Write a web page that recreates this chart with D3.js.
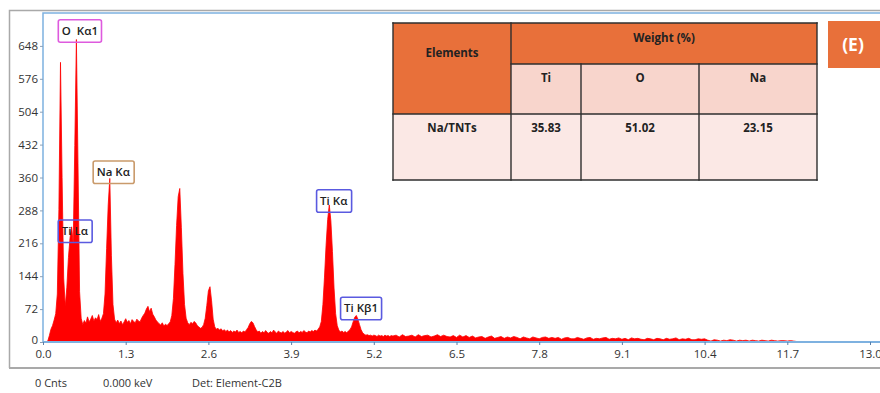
<!DOCTYPE html>
<html>
<head>
<meta charset="utf-8">
<script src="https://cdn.jsdelivr.net/npm/d3@7"></script>
<style>
  body { margin: 0; background: #fff; }
  svg { display: block; }
  text { font-family: "Open Sans", "Noto Sans", "DejaVu Sans", sans-serif; }
</style>
</head>
<body>
<svg id="chart" width="880" height="393"></svg>
<script>
// ---- EDS spectrum (counts per channel) ----
// channels 0.000 – 5.500 keV, 0.025 keV apart
const lowStep = 0.025;
const lowCounts = [
  0, 0, 0, 2, 14, 28, 36, 48, 62, 105,
  290, 612, 360, 140, 78, 120, 185, 228, 252, 215,
  430, 662, 390, 110, 52, 38, 47, 41, 55, 44,
  50, 58, 46, 53, 49, 60, 45, 52, 62, 105,
  205, 300, 358, 190, 82, 50, 42, 48, 40, 46,
  38, 44, 51, 43, 47, 40, 49, 45, 42, 50,
  46, 44, 52, 58, 63, 72, 78, 66, 74, 61,
  55, 48, 44, 40, 37, 42, 35, 39, 36, 40,
  44, 58, 95, 170, 255, 318, 336, 250, 150, 82,
  52, 42, 38, 43, 40, 45, 42, 36, 33, 30,
  32, 38, 52, 80, 112, 121, 90, 50, 33, 28,
  30, 26, 29, 24, 27, 23, 26, 22, 25, 21,
  24, 22, 26, 21, 23, 20, 24, 22, 27, 32,
  40, 45, 42, 34, 27, 22, 24, 19, 23, 20,
  25, 21, 19, 23, 20, 26, 22, 19, 24, 21,
  20, 23, 19, 22, 25, 20, 23, 21, 19, 22,
  24, 20, 23, 21, 25, 22, 20, 24, 22, 25,
  23, 26, 24, 28, 33, 45, 82, 142, 212, 268,
  300, 265, 198, 118, 62, 36, 26, 22, 24, 21,
  23, 20, 24, 27, 33, 44, 54, 58, 50, 38,
  27, 20, 17, 15, 16, 14, 15, 13, 15, 14,
  12, 15, 13, 14, 12, 15, 13, 14, 12, 14,
  13
];
// channels 5.55 – 11.90 keV, 0.05 keV apart
const highStart = 5.55;
const highStep = 0.05;
const highCounts = [
  15, 11, 16, 12, 13, 15, 11, 16, 12, 14, 15, 11, 13, 16, 12, 15, 12, 11, 14, 10, 15, 11, 14, 10, 13, 9,
  11, 12, 8, 11, 13, 8, 10, 12, 8, 11, 9, 12, 10, 7, 11, 9, 7, 11, 9, 7, 10, 11, 8, 10,
  8, 10, 6, 9, 10, 7, 7, 10, 8, 6, 9, 10, 6, 8, 7, 9, 10, 6, 8, 7, 9, 6, 8, 5, 9, 7, 8, 6, 5, 8,
  7, 5, 8, 7, 5, 8, 6, 7, 9, 5, 7, 6, 8, 5, 5, 7, 6, 7,
  4, 2, 5, 4, 2, 4, 3, 5, 4, 2, 4, 3, 4, 2, 4, 3, 2, 4, 3, 2, 4, 3, 2, 3, 3, 2, 3, 2, 1, 0
];

// ---- axes ----
const xTicks = [0.0, 1.3, 2.6, 3.9, 5.2, 6.5, 7.8, 9.1, 10.4, 11.7, 13.0];
const yTicks = [0, 72, 144, 216, 288, 360, 432, 504, 576, 648];

// ---- peak identifications (label centre in keV / counts) ----
const peakLabels = [
  { name: "O  Kα1", keV: 0.58, count: 681, color: "#de5ade" },
  { name: "Na Kα",  keV: 1.105, count: 372, color: "#c99a6b" },
  { name: "Ti Lα",  keV: 0.50, count: 243, color: "#5a5ae0" },
  { name: "Ti Kα",  keV: 4.57, count: 309, color: "#5a5ae0" },
  { name: "Ti Kβ1", keV: 5.0,  count: 74,  color: "#5a5ae0" }
];

// ---- composition table ----
const elementNames = ["Ti", "O", "Na"];
const sampleName = "Na/TNTs";
const weightPercent = ["35.83", "51.02", "23.15"];

// ---- status line ----
const statusItems = ["0 Cnts", "0.000 keV", "Det: Element-C2B"];

const svg = d3.select("#chart");

// outer window frame
svg.append("path")
  .attr("d", "M9.5,368 L9.5,10.5 L885,10.5")
  .attr("fill", "none").attr("stroke", "#a9a9a9").attr("stroke-width", 1.5);
svg.append("line")
  .attr("x1", 9).attr("x2", 885).attr("y1", 368).attr("y2", 368)
  .attr("stroke", "#a9a9a9").attr("stroke-width", 2);

const x = d3.scaleLinear().domain([0, 13]).range([43, 870]);
const y = d3.scaleLinear().domain([0, 720]).range([342, 13]);

// plot frame
svg.append("path")
  .attr("d", `M885,${y(720)} L${x(0)},${y(720)} L${x(0)},${y(0)}`)
  .attr("fill", "none").attr("stroke", "#7eb1e0").attr("stroke-width", 1.5);

// spectrum
const spectrum = lowCounts.map((c, i) => [i * lowStep, c])
  .concat(highCounts.map((c, i) => [highStart + i * highStep, c]));

const area = d3.area()
  .x(d => x(d[0]))
  .y0(y(0))
  .y1(d => y(d[1]))
  .curve(d3.curveLinear);

svg.append("path")
  .datum(spectrum)
  .attr("d", area)
  .attr("fill", "#ff0000")
  .attr("stroke", "#ff0000")
  .attr("stroke-width", 0.8)
  .attr("stroke-linejoin", "miter");

// x axis
const xAxis = svg.append("g")
  .attr("transform", `translate(0,${y(0)})`)
  .call(d3.axisBottom(x).tickValues(xTicks).tickFormat(d3.format(".1f")).tickSize(3).tickPadding(5));
xAxis.select(".domain").attr("d", `M${x(0)},0 L885,0`).attr("stroke", "#7eb1e0").attr("stroke-width", 2);
xAxis.selectAll(".tick line").attr("stroke", "#5a7fa8");
xAxis.selectAll(".tick text").attr("font-size", 11.5).attr("fill", "#333");

// y axis
const yAxis = svg.append("g")
  .attr("transform", `translate(${x(0)},0)`)
  .call(d3.axisLeft(y).tickValues(yTicks).tickSize(3).tickPadding(2));
yAxis.select(".domain").remove();
yAxis.selectAll(".tick line").attr("stroke", "#8aa0b8");
yAxis.selectAll(".tick text").attr("font-size", 11.5).attr("fill", "#333");
// lift the zero label clear of the keV labels below it
yAxis.selectAll(".tick text").filter(d => d === 0).attr("dy", "0.1em");

// peak labels
const lab = svg.append("g").selectAll("g").data(peakLabels).join("g")
  .attr("transform", d => `translate(${x(d.keV)},${y(d.count)})`);
lab.append("text")
  .attr("text-anchor", "middle")
  .attr("dy", "0.36em")
  .attr("font-size", 11.5)
  .attr("font-weight", 600)
  .attr("fill", "#222")
  .style("white-space", "pre")
  .text(d => d.name);
lab.each(function () {
  const g = d3.select(this);
  const bb = g.select("text").node().getBBox();
  g.insert("rect", "text")
    .attr("x", bb.x - 3.5).attr("y", -11)
    .attr("width", bb.width + 7).attr("height", 22.5)
    .attr("rx", 2)
    .attr("fill", "none")
    .attr("stroke", d => d.color)
    .attr("stroke-width", 1.6);
});

// composition table
const tb = svg.append("g");
const T = { x0: 393, x1: 511, x2: 581, x3: 699, x4: 817, y0: 23, y1: 64, y2: 114, y3: 180 };
const orange = "#e8703a";
tb.append("rect").attr("x", T.x0).attr("y", T.y0).attr("width", T.x1 - T.x0).attr("height", T.y2 - T.y0).attr("fill", orange);
tb.append("rect").attr("x", T.x1).attr("y", T.y0).attr("width", T.x4 - T.x1).attr("height", T.y1 - T.y0).attr("fill", orange);
tb.append("rect").attr("x", T.x1).attr("y", T.y1).attr("width", T.x4 - T.x1).attr("height", T.y2 - T.y1).attr("fill", "#f8d5cc");
tb.append("rect").attr("x", T.x0).attr("y", T.y2).attr("width", T.x4 - T.x0).attr("height", T.y3 - T.y2).attr("fill", "#fbe8e5");
const gridLines = [
  [T.x0, T.y0, T.x4, T.y0], [T.x0, T.y3, T.x4, T.y3], [T.x0, T.y0, T.x0, T.y3], [T.x4, T.y0, T.x4, T.y3],
  [T.x1, T.y1, T.x4, T.y1], [T.x0, T.y2, T.x4, T.y2],
  [T.x1, T.y0, T.x1, T.y3], [T.x2, T.y1, T.x2, T.y3], [T.x3, T.y1, T.x3, T.y3]
];
tb.selectAll("line").data(gridLines).join("line")
  .attr("x1", d => d[0]).attr("y1", d => d[1]).attr("x2", d => d[2]).attr("y2", d => d[3])
  .attr("stroke", "#2e2e2e").attr("stroke-width", 1.4).attr("stroke-linecap", "square");

const colCentres = [(T.x1 + T.x2) / 2, (T.x2 + T.x3) / 2, (T.x3 + T.x4) / 2];
const cell = (tx, ty, s) => tb.append("text")
  .attr("x", tx).attr("y", ty).attr("dy", "0.36em")
  .attr("text-anchor", "middle").attr("font-size", 11.5).attr("font-weight", 700).attr("fill", "#222")
  .text(s);
cell((T.x0 + T.x1) / 2, 53, "Elements");
cell((T.x1 + T.x4) / 2, 38, "Weight (%)");
elementNames.forEach((e, i) => cell(colCentres[i], 78, e));
cell((T.x0 + T.x1) / 2, 128, sampleName);
weightPercent.forEach((v, i) => cell(colCentres[i], 128, v));

// panel badge
svg.append("rect").attr("x", 828).attr("y", 21).attr("width", 60).attr("height", 47).attr("fill", orange);
svg.append("text").attr("x", 853).attr("y", 44.5).attr("dy", "0.36em")
  .attr("text-anchor", "middle").attr("font-size", 17.5).attr("font-weight", 700).attr("fill", "#fff")
  .text("(E)");

// status line
const statusX = [35, 103, 192];
svg.append("g").selectAll("text").data(statusItems).join("text")
  .attr("x", (d, i) => statusX[i]).attr("y", 383).attr("dy", "0.36em")
  .attr("font-size", 11).attr("fill", "#333")
  .text(d => d);
</script>
</body>
</html>
